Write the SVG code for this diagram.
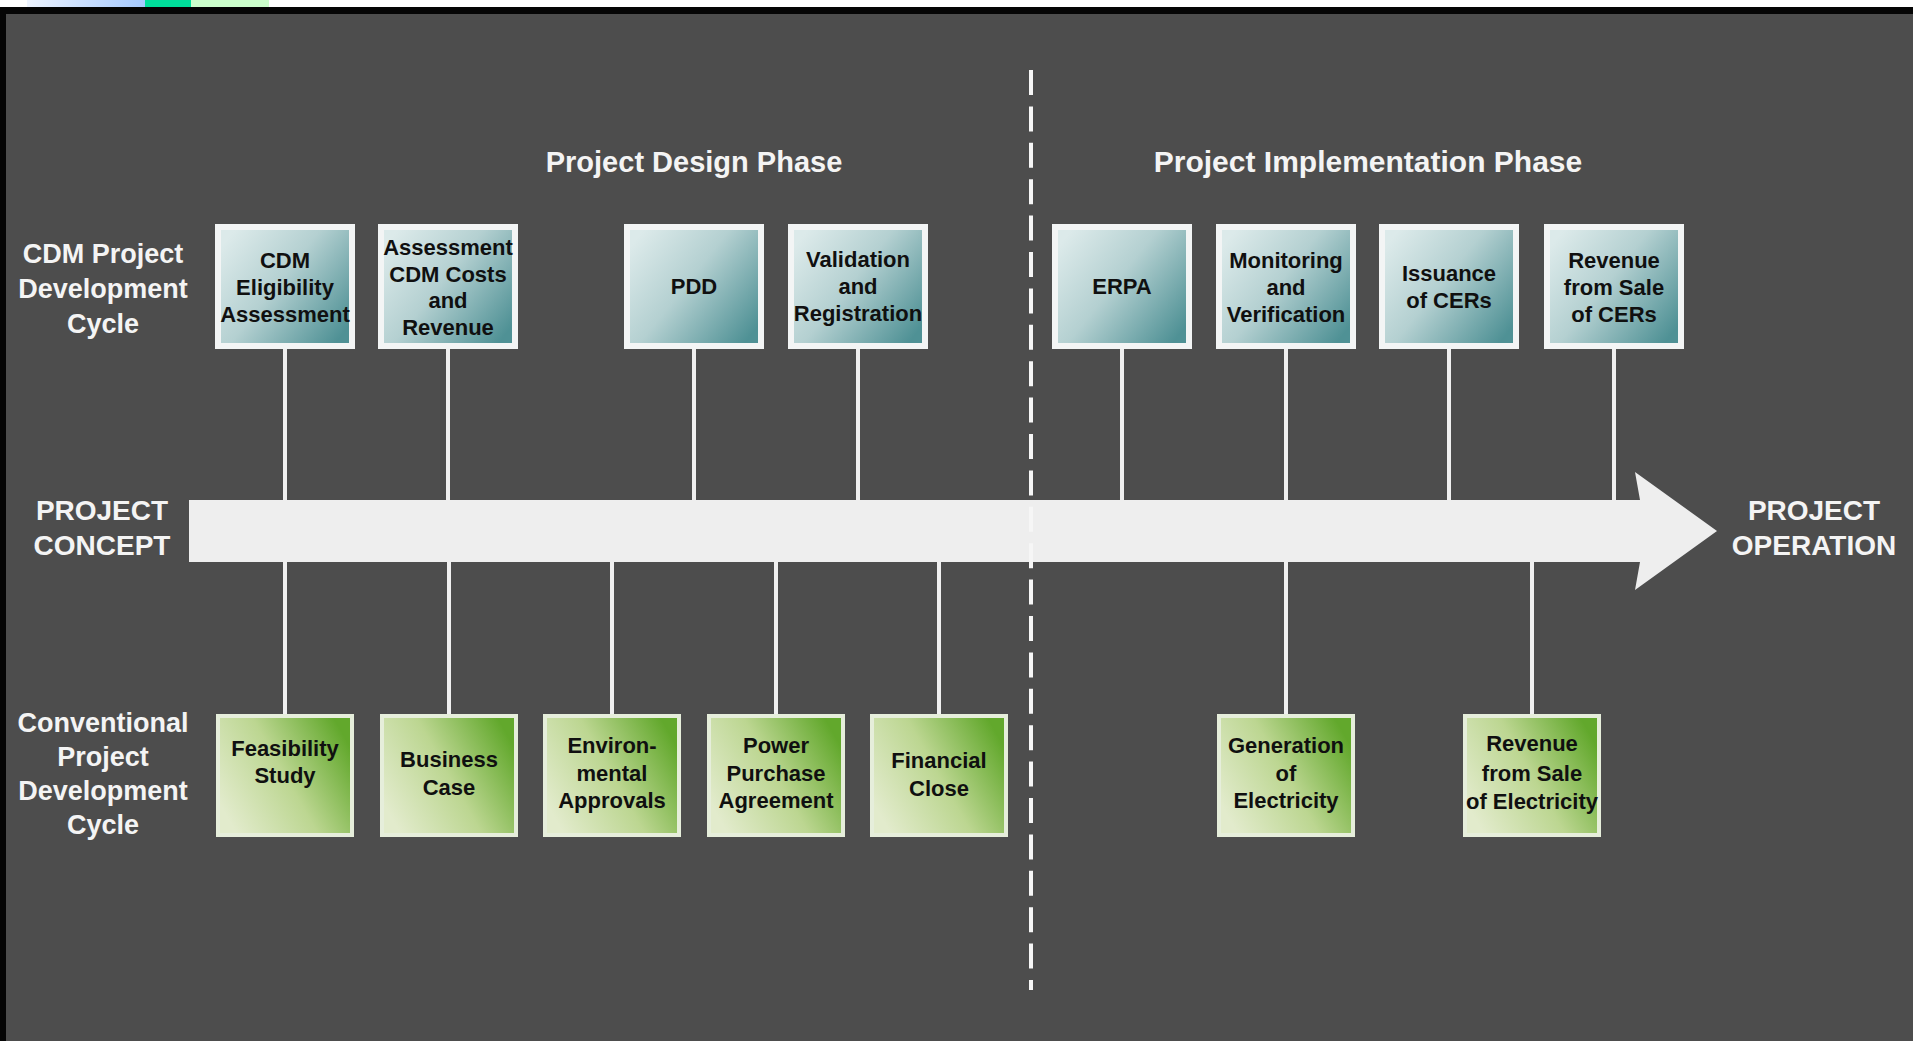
<svg xmlns="http://www.w3.org/2000/svg" width="1913" height="1041" viewBox="0 0 1913 1041">
<defs>
<linearGradient id="gBlue" x1="0" y1="0.15" x2="1" y2="0.85">
<stop offset="0" stop-color="#dceaea"/>
<stop offset="0.45" stop-color="#b4d0d1"/>
<stop offset="1" stop-color="#4f9195"/>
</linearGradient>
<linearGradient id="gGreen" x1="0" y1="0.75" x2="1" y2="0.25">
<stop offset="0" stop-color="#e2ebcc"/>
<stop offset="0.5" stop-color="#bcd691"/>
<stop offset="1" stop-color="#62a82c"/>
</linearGradient>
<linearGradient id="gStrip" x1="0" y1="0" x2="1" y2="0">
<stop offset="0" stop-color="#eef4ff"/>
<stop offset="1" stop-color="#a6caff"/>
</linearGradient>
</defs>
<style>
.lbl{font-family:"Liberation Sans",Arial,sans-serif;font-weight:bold;fill:#f4f4f4;text-anchor:middle}
.side{font-size:27px}
.hdr{font-size:29px}
.big{font-size:28px}
.bt{font-family:"Liberation Sans",Arial,sans-serif;font-weight:bold;font-size:22px;fill:#101010;text-anchor:middle}
.bframe{fill:#f3f5f5}
.gframe{fill:#e6eedb}
.binner{fill:url(#gBlue)}
.ginner{fill:url(#gGreen)}
.conn{stroke:#f0f0f0;stroke-width:4;fill:none}
.dash{stroke:#f6f6f6;stroke-width:4;fill:none;stroke-dasharray:25 11.4}
</style>
<rect x="0" y="0" width="1913" height="1041" fill="#4d4d4d"/>
<rect x="0" y="0" width="1913" height="7" fill="#ffffff"/>
<rect x="27" y="0" width="118" height="7" fill="url(#gStrip)"/>
<rect x="145" y="0" width="46" height="7" fill="#00e09c"/>
<rect x="191" y="0" width="78" height="7" fill="#ccffcc"/>
<rect x="0" y="7" width="1913" height="7" fill="#050505"/>
<rect x="0" y="7" width="6" height="1034" fill="#050505"/>

<g id="arrow">
<polygon points="189,500 1640,500 1635,472 1717,531 1635,590 1640,562 189,562" fill="#eeeeee"/>
</g>

<g id="connectors">
<line class="conn" x1="285" y1="349" x2="285" y2="500"/>
<line class="conn" x1="448" y1="349" x2="448" y2="500"/>
<line class="conn" x1="694" y1="349" x2="694" y2="500"/>
<line class="conn" x1="858" y1="349" x2="858" y2="500"/>
<line class="conn" x1="1122" y1="349" x2="1122" y2="500"/>
<line class="conn" x1="1286" y1="349" x2="1286" y2="500"/>
<line class="conn" x1="1449" y1="349" x2="1449" y2="500"/>
<line class="conn" x1="1614" y1="349" x2="1614" y2="500"/>
<line class="conn" x1="285" y1="562" x2="285" y2="715"/>
<line class="conn" x1="449" y1="562" x2="449" y2="715"/>
<line class="conn" x1="612" y1="562" x2="612" y2="715"/>
<line class="conn" x1="776" y1="562" x2="776" y2="715"/>
<line class="conn" x1="939" y1="562" x2="939" y2="715"/>
<line class="conn" x1="1286" y1="562" x2="1286" y2="715"/>
<line class="conn" x1="1532" y1="562" x2="1532" y2="715"/>
</g>

<g id="phase-divider">
<line class="dash" x1="1031" y1="70" x2="1031" y2="990"/>
</g>

<g id="headers">
<text class="lbl hdr" x="694" y="172">Project Design Phase</text>
<text class="lbl hdr" x="1368" y="172" style="font-size:30px">Project Implementation Phase</text>
</g>

<g id="label-cdm-cycle">
<text class="lbl side" x="103" y="263">CDM Project</text>
<text class="lbl side" x="103" y="298">Development</text>
<text class="lbl side" x="103" y="333">Cycle</text>
</g>
<g id="label-conventional-cycle">
<text class="lbl side" x="103" y="732">Conventional</text>
<text class="lbl side" x="103" y="766">Project</text>
<text class="lbl side" x="103" y="800">Development</text>
<text class="lbl side" x="103" y="834">Cycle</text>
</g>
<g id="label-project-concept">
<text class="lbl big" x="102" y="520">PROJECT</text>
<text class="lbl big" x="102" y="555">CONCEPT</text>
</g>
<g id="label-project-operation">
<text class="lbl big" x="1814" y="520">PROJECT</text>
<text class="lbl big" x="1814" y="555">OPERATION</text>
</g>

<g id="cdm-eligibility">
<rect class="bframe" x="215" y="224" width="140" height="125"/>
<rect class="binner" x="221" y="230" width="128" height="113"/>
<text class="bt" x="285" y="268">CDM</text>
<text class="bt" x="285" y="295">Eligibility</text>
<text class="bt" x="285" y="322">Assessment</text>
</g>
<g id="assessment-cdm-costs">
<rect class="bframe" x="378" y="224" width="140" height="125"/>
<rect class="binner" x="384" y="230" width="128" height="113"/>
<text class="bt" x="448" y="255">Assessment</text>
<text class="bt" x="448" y="282">CDM Costs</text>
<text class="bt" x="448" y="308">and</text>
<text class="bt" x="448" y="335">Revenue</text>
</g>
<g id="pdd">
<rect class="bframe" x="624" y="224" width="140" height="125"/>
<rect class="binner" x="630" y="230" width="128" height="113"/>
<text class="bt" x="694" y="294">PDD</text>
</g>
<g id="validation-registration">
<rect class="bframe" x="788" y="224" width="140" height="125"/>
<rect class="binner" x="794" y="230" width="128" height="113"/>
<text class="bt" x="858" y="267">Validation</text>
<text class="bt" x="858" y="294">and</text>
<text class="bt" x="858" y="321">Registration</text>
</g>
<g id="erpa">
<rect class="bframe" x="1052" y="224" width="140" height="125"/>
<rect class="binner" x="1058" y="230" width="128" height="113"/>
<text class="bt" x="1122" y="294">ERPA</text>
</g>
<g id="monitoring-verification">
<rect class="bframe" x="1216" y="224" width="140" height="125"/>
<rect class="binner" x="1222" y="230" width="128" height="113"/>
<text class="bt" x="1286" y="268">Monitoring</text>
<text class="bt" x="1286" y="295">and</text>
<text class="bt" x="1286" y="322">Verification</text>
</g>
<g id="issuance-cers">
<rect class="bframe" x="1379" y="224" width="140" height="125"/>
<rect class="binner" x="1385" y="230" width="128" height="113"/>
<text class="bt" x="1449" y="281">Issuance</text>
<text class="bt" x="1449" y="308">of CERs</text>
</g>
<g id="revenue-cers">
<rect class="bframe" x="1544" y="224" width="140" height="125"/>
<rect class="binner" x="1550" y="230" width="128" height="113"/>
<text class="bt" x="1614" y="268">Revenue</text>
<text class="bt" x="1614" y="295">from Sale</text>
<text class="bt" x="1614" y="322">of CERs</text>
</g>

<g id="feasibility-study">
<rect class="gframe" x="216" y="714" width="138" height="123"/>
<rect class="ginner" x="220" y="718" width="130" height="115"/>
<text class="bt" x="285" y="756">Feasibility</text>
<text class="bt" x="285" y="783">Study</text>
</g>
<g id="business-case">
<rect class="gframe" x="380" y="714" width="138" height="123"/>
<rect class="ginner" x="384" y="718" width="130" height="115"/>
<text class="bt" x="449" y="767">Business</text>
<text class="bt" x="449" y="795">Case</text>
</g>
<g id="environmental-approvals">
<rect class="gframe" x="543" y="714" width="138" height="123"/>
<rect class="ginner" x="547" y="718" width="130" height="115"/>
<text class="bt" x="612" y="753">Environ-</text>
<text class="bt" x="612" y="781">mental</text>
<text class="bt" x="612" y="808">Approvals</text>
</g>
<g id="power-purchase-agreement">
<rect class="gframe" x="707" y="714" width="138" height="123"/>
<rect class="ginner" x="711" y="718" width="130" height="115"/>
<text class="bt" x="776" y="753">Power</text>
<text class="bt" x="776" y="781">Purchase</text>
<text class="bt" x="776" y="808">Agreement</text>
</g>
<g id="financial-close">
<rect class="gframe" x="870" y="714" width="138" height="123"/>
<rect class="ginner" x="874" y="718" width="130" height="115"/>
<text class="bt" x="939" y="768">Financial</text>
<text class="bt" x="939" y="796">Close</text>
</g>
<g id="generation-electricity">
<rect class="gframe" x="1217" y="714" width="138" height="123"/>
<rect class="ginner" x="1221" y="718" width="130" height="115"/>
<text class="bt" x="1286" y="753">Generation</text>
<text class="bt" x="1286" y="781">of</text>
<text class="bt" x="1286" y="808">Electricity</text>
</g>
<g id="revenue-electricity">
<rect class="gframe" x="1463" y="714" width="138" height="123"/>
<rect class="ginner" x="1467" y="718" width="130" height="115"/>
<text class="bt" x="1532" y="751">Revenue</text>
<text class="bt" x="1532" y="781">from Sale</text>
<text class="bt" x="1532" y="809">of Electricity</text>
</g>
</svg>
